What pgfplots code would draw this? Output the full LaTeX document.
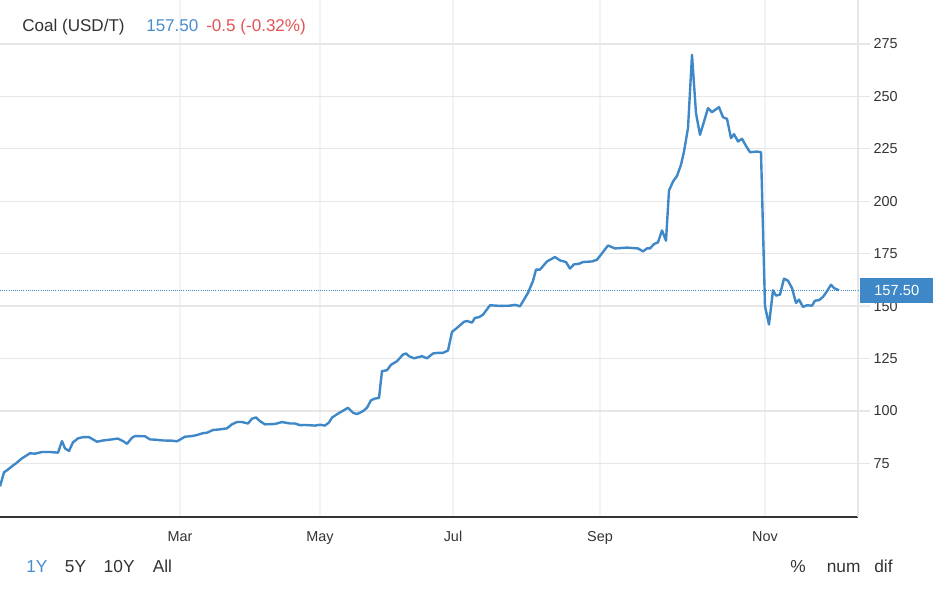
\documentclass[border=0pt]{standalone}
\usepackage{pgfplots}
\pgfplotsset{compat=1.18}
\usepackage{fontspec}
\setmainfont{Liberation Sans}
\definecolor{linec}{HTML}{3F88C8}
\definecolor{txt}{HTML}{333333}
\definecolor{redc}{HTML}{E25454}
\definecolor{bluet}{HTML}{4A8DCF}
\definecolor{gridh}{HTML}{E6E6E6}
\definecolor{gridv}{HTML}{F0F4F9}
\begin{document}
\begin{tikzpicture}
\useasboundingbox (0,0) rectangle (699.75pt,442.5pt);
\begin{axis}[
  at={(0pt,54.75pt)}, anchor=south west,
  scale only axis, width=643.5pt, height=387.75pt,
  xmin=0, xmax=858, ymin=49.4, ymax=296,
  clip=false,
  separate axis lines,
  axis x line*=bottom, axis y line*=right,
  x axis line style={-, draw=txt, line width=1.1pt},
  y axis line style={-, draw=gridh, line width=1pt},
  xtick={180,320,453,600,765},
  xticklabels={Mar,May,Jul,Sep,Nov},
  ytick={75,100,125,150,175,200,225,250,275},
  xmajorgrids, ymajorgrids,
  x grid style={gridv, line width=0.9pt},
  y grid style={gridh, line width=0.9pt},
  major x tick style={draw=none},
  major y tick style={draw=gridh, line width=0.9pt},
  tick align=outside,
  major tick length=9pt,
  /pgf/number format/assume math mode=true,
  ticklabel style={font=\fontsize{10.8pt}{12pt}\selectfont, text=txt},
  xticklabel style={anchor=base, yshift=-9pt, inner sep=0pt},
  yticklabel style={anchor=west, xshift=2.5pt, inner sep=0pt},
]
\addplot[color=linec, densely dotted, line width=0.6pt] coordinates {(0,157.5) (858,157.5)};
\addplot[color=linec, line width=1.8pt, line join=round] coordinates {
(0,64.0) (4,70.7) (7,71.7) (12,73.6) (16,75.0) (22,77.4) (30,79.8) (35,79.6)
(42,80.4) (50,80.4) (58,80.1) (62,85.6) (65,82.1) (69,80.9) (73,85.0) (78,86.9)
(83,87.5) (89,87.5) (97,85.3) (103,85.9) (110,86.3) (118,86.8) (123,85.6) (127,84.3)
(132,87.2) (135,88.0) (145,87.9) (150,86.4) (155,86.3) (163,85.9) (172,85.8) (177,85.5)
(180,86.3) (185,87.7) (192,88.0) (197,88.5) (203,89.4) (207,89.6) (213,90.9) (220,91.2)
(227,91.7) (232,93.6) (237,94.7) (242,94.7) (248,94.0) (252,96.3) (256,96.9) (260,95.1)
(265,93.6) (272,93.7) (276,93.9) (282,94.7) (290,94.0) (295,94.0) (300,93.2) (305,93.3)
(315,93.0) (320,93.4) (325,93.0) (329,94.5) (332,96.8) (338,98.7) (348,101.5) (353,99.1)
(357,98.5) (363,99.9) (367,101.5) (371,105.1) (375,105.9) (379,106.2) (382,119.0) (387,119.4)
(391,122.0) (397,123.7) (403,126.9) (406,127.4) (409,126.1) (414,125.1) (422,126.1) (427,125.1)
(433,127.4) (438,127.7) (443,127.7) (448,128.8) (452,137.7) (457,139.6) (464,142.5) (467,142.9)
(472,142.1) (475,144.4) (479,144.7) (483,145.9) (490,150.4) (500,150.1) (510,150.2) (515,150.6)
(520,149.9) (528,156.3) (533,162.0) (536,167.4) (540,167.4) (547,171.3) (555,173.4) (560,171.8)
(566,171.0) (570,167.9) (574,169.9) (579,170.2) (583,171.0) (592,171.3) (597,172.1) (603,175.8)
(608,178.9) (615,177.5) (627,177.9) (638,177.5) (643,176.1) (647,177.5) (650,177.5) (654,179.6)
(658,180.4) (662,186.1) (666,181.2) (669,205.1) (673,209.4) (677,212.1) (681,217.4) (684,223.7)
(688,234.9) (692,269.8) (696,242.0) (700,231.7) (704,238.0) (708,244.4) (712,242.5) (719,244.9)
(723,240.1) (727,239.3) (731,230.1) (734,232.0) (738,228.5) (742,229.8) (746,226.4) (750,223.4)
(757,223.7) (761,223.4) (765,149.9) (769,141.2) (773,157.5) (776,155.0) (780,155.5) (784,163.1)
(788,162.1) (792,158.6) (796,151.5) (799,153.1) (803,149.6) (807,150.4) (812,150.2) (815,152.6)
(819,152.8) (823,154.4) (827,157.1) (831,160.2) (834,158.6) (839,157.5)
};
\node[fill=linec, text=white, anchor=west, minimum width=54.75pt, minimum height=18.75pt,
      inner sep=0pt, font=\fontsize{11pt}{12pt}\selectfont, xshift=1.5pt] at (axis cs:858,157.5) {157.50};
\end{axis}
\begin{scope}[every node/.style={inner sep=0pt, anchor=base west}]
\node[text=txt, font=\fontsize{12.8pt}{14pt}\selectfont] at (16.5pt,418.5pt) {Coal (USD/T)};
\node[text=bluet, font=\fontsize{12.8pt}{14pt}\selectfont] at (109.5pt,418.5pt) {157.50};
\node[text=redc, font=\fontsize{12.8pt}{14pt}\selectfont] at (154.5pt,418.5pt) {-0.5 (-0.32\%)};
\node[text=bluet, font=\fontsize{13pt}{14pt}\selectfont] at (19.5pt,13.5pt) {1Y};
\node[text=txt, font=\fontsize{13pt}{14pt}\selectfont] at (48.5pt,13.5pt) {5Y};
\node[text=txt, font=\fontsize{13pt}{14pt}\selectfont] at (77.6pt,13.5pt) {10Y};
\node[text=txt, font=\fontsize{13pt}{14pt}\selectfont] at (114.4pt,13.5pt) {All};
\node[text=txt, font=\fontsize{13pt}{14pt}\selectfont] at (592.5pt,13.5pt) {\%};
\node[text=txt, font=\fontsize{13pt}{14pt}\selectfont] at (619.9pt,13.5pt) {num};
\node[text=txt, font=\fontsize{13pt}{14pt}\selectfont] at (655.5pt,13.5pt) {dif};
\end{scope}
\end{tikzpicture}
\end{document}
